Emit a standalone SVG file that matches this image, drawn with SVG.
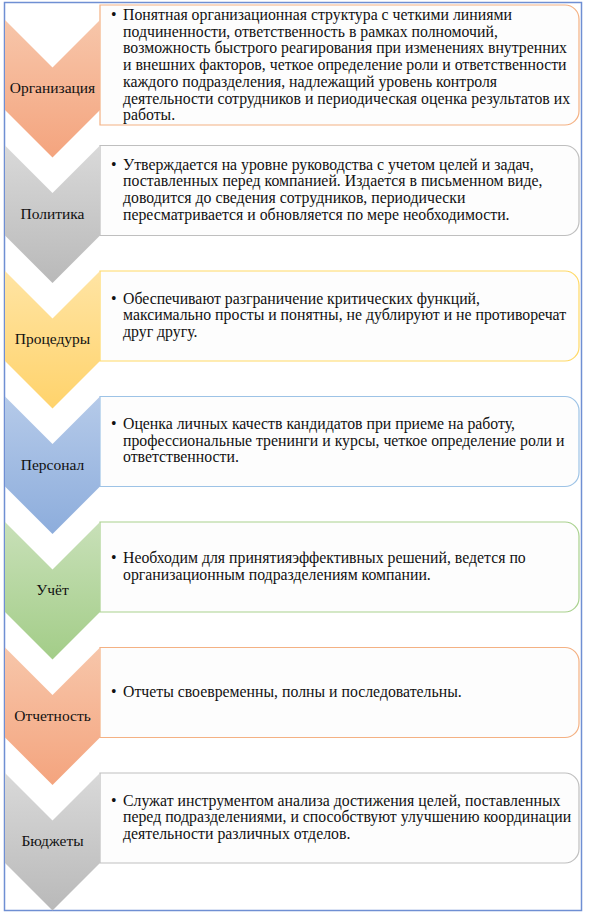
<svg xmlns="http://www.w3.org/2000/svg" width="589" height="913" viewBox="0 0 589 913">
<defs>
<linearGradient id="gOr" x1="0" y1="0" x2="0" y2="1"><stop offset="0" stop-color="#F7C6AA"/><stop offset="1" stop-color="#F4A47E"/></linearGradient>
<linearGradient id="gGr" x1="0" y1="0" x2="0" y2="1"><stop offset="0" stop-color="#D9D9D9"/><stop offset="1" stop-color="#B9B9B9"/></linearGradient>
<linearGradient id="gYe" x1="0" y1="0" x2="0" y2="1"><stop offset="0" stop-color="#FFE4A3"/><stop offset="1" stop-color="#FFD36C"/></linearGradient>
<linearGradient id="gBl" x1="0" y1="0" x2="0" y2="1"><stop offset="0" stop-color="#B5CAE9"/><stop offset="1" stop-color="#8DADDC"/></linearGradient>
<linearGradient id="gGn" x1="0" y1="0" x2="0" y2="1"><stop offset="0" stop-color="#C8E0B8"/><stop offset="1" stop-color="#A3CD88"/></linearGradient>
</defs>
<style>
text{font-family:"Liberation Serif","Times New Roman",serif;fill:#111111}
.lbl{font-size:15.5px;text-anchor:middle}
.t{font-size:15.8px}
.card{fill:#FDFDFD;stroke-width:1.2}
.chev{stroke:none}
</style>
<rect x="4.5" y="2.5" width="577" height="908" fill="#FFFFFF" stroke="#6F8FD3" stroke-width="1.5"/>
<g id="connectors"/>
<g id="n1">
<path class="card" stroke="#F4B183" d="M100,5 H565 A14 14 0 0 1 579,19 V111 A14 14 0 0 1 565,125 H100 Z"/>
<path class="chev" fill="url(#gOr)" d="M5,20 L52.5,67.5 L100,20 V110 L52.5,157.5 L5,110 Z"/>
<text class="lbl" x="52.5" y="93">Организация</text>
<text class="t" x="111" y="20">•</text>
<text class="t"><tspan x="123" y="20">Понятная организационная структура с четкими линиями</tspan><tspan x="123" y="36.7">подчиненности, ответственность в рамках полномочий,</tspan><tspan x="123" y="53.4">возможность быстрого реагирования при изменениях внутренних</tspan><tspan x="123" y="70.1">и внешних факторов, четкое определение роли и ответственности</tspan><tspan x="123" y="86.8">каждого подразделения, надлежащий уровень контроля</tspan><tspan x="123" y="103.5">деятельности сотрудников и периодическая оценка результатов их</tspan><tspan x="123" y="120.2">работы.</tspan></text>
</g>
<g id="n2">
<path class="card" stroke="#BFBFBF" d="M100,145.5 H565 A14 14 0 0 1 579,159.5 V221.5 A14 14 0 0 1 565,235.5 H100 Z"/>
<path class="chev" fill="url(#gGr)" d="M5,145.5 L52.5,193 L100,145.5 V235.5 L52.5,283 L5,235.5 Z"/>
<text class="lbl" x="52.5" y="218.5">Политика</text>
<text class="t" x="111" y="169.5">•</text>
<text class="t"><tspan x="123" y="169.5">Утверждается на уровне руководства с учетом целей и задач,</tspan><tspan x="123" y="186.2">поставленных перед компанией. Издается в письменном виде,</tspan><tspan x="123" y="202.9">доводится до сведения сотрудников, периодически</tspan><tspan x="123" y="219.6">пересматривается и обновляется по мере необходимости.</tspan></text>
</g>
<g id="n3">
<path class="card" stroke="#FFD966" d="M100,271 H565 A14 14 0 0 1 579,285 V347 A14 14 0 0 1 565,361 H100 Z"/>
<path class="chev" fill="url(#gYe)" d="M5,271 L52.5,318.5 L100,271 V361 L52.5,408.5 L5,361 Z"/>
<text class="lbl" x="52.5" y="344">Процедуры</text>
<text class="t" x="111" y="303.5">•</text>
<text class="t"><tspan x="123" y="303.5">Обеспечивают разграничение критических функций,</tspan><tspan x="123" y="320.2">максимально просты и понятны, не дублируют и не противоречат</tspan><tspan x="123" y="336.9">друг другу.</tspan></text>
</g>
<g id="n4">
<path class="card" stroke="#9DC3E6" d="M100,396.5 H565 A14 14 0 0 1 579,410.5 V472.5 A14 14 0 0 1 565,486.5 H100 Z"/>
<path class="chev" fill="url(#gBl)" d="M5,396.5 L52.5,444 L100,396.5 V486.5 L52.5,534 L5,486.5 Z"/>
<text class="lbl" x="52.5" y="469.5">Персонал</text>
<text class="t" x="111" y="429">•</text>
<text class="t"><tspan x="123" y="429">Оценка личных качеств кандидатов при приеме на работу,</tspan><tspan x="123" y="445.7">профессиональные тренинги и курсы, четкое определение роли и</tspan><tspan x="123" y="462.4">ответственности.</tspan></text>
</g>
<g id="n5">
<path class="card" stroke="#A9D18E" d="M100,522 H565 A14 14 0 0 1 579,536 V598 A14 14 0 0 1 565,612 H100 Z"/>
<path class="chev" fill="url(#gGn)" d="M5,522 L52.5,569.5 L100,522 V612 L52.5,659.5 L5,612 Z"/>
<text class="lbl" x="52.5" y="595">Учёт</text>
<text class="t" x="111" y="563">•</text>
<text class="t"><tspan x="123" y="563">Необходим для принятияэффективных решений, ведется по</tspan><tspan x="123" y="579.7">организационным подразделениям компании.</tspan></text>
</g>
<g id="n6">
<path class="card" stroke="#F4B183" d="M100,647.5 H565 A14 14 0 0 1 579,661.5 V723.5 A14 14 0 0 1 565,737.5 H100 Z"/>
<path class="chev" fill="url(#gOr)" d="M5,647.5 L52.5,695 L100,647.5 V737.5 L52.5,785 L5,737.5 Z"/>
<text class="lbl" x="52.5" y="720.5">Отчетность</text>
<text class="t" x="111" y="697">•</text>
<text class="t" x="123" y="697">Отчеты своевременны, полны и последовательны.</text>
</g>
<g id="n7">
<path class="card" stroke="#BFBFBF" d="M100,773 H565 A14 14 0 0 1 579,787 V849 A14 14 0 0 1 565,863 H100 Z"/>
<path class="chev" fill="url(#gGr)" d="M5,773 L52.5,820.5 L100,773 V863 L52.5,910.5 L5,863 Z"/>
<text class="lbl" x="52.5" y="846">Бюджеты</text>
<text class="t" x="111" y="805.5">•</text>
<text class="t"><tspan x="123" y="805.5">Служат инструментом анализа достижения целей, поставленных</tspan><tspan x="123" y="822.2">перед подразделениями, и способствуют улучшению координации</tspan><tspan x="123" y="838.9">деятельности различных отделов.</tspan></text>
</g>
</svg>
